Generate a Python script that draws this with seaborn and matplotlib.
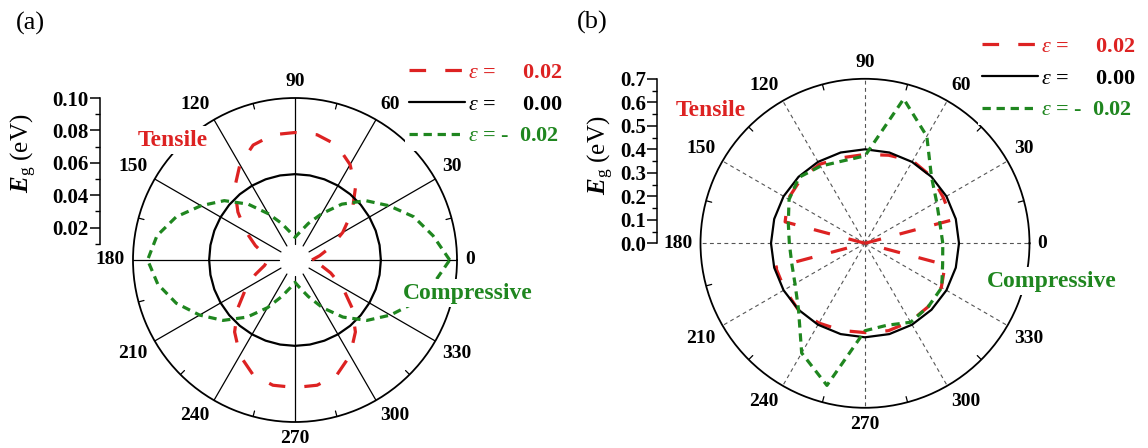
import numpy as np
import matplotlib
matplotlib.use("Agg")
import matplotlib.pyplot as plt
import seaborn as sns

# ---------------------------------------------------------------------------
# Data: band gap E_g (eV) versus in-plane direction (degrees)
# ---------------------------------------------------------------------------
theta_a = [0, 10, 20, 30, 40, 50, 60, 70, 80, 90, 100, 110,
           120, 130, 140, 150, 160, 170, 180, 190, 200, 210, 220, 230,
           240, 250, 260, 270, 280, 290, 300, 310, 320, 330, 340, 350]

eg_a_tensile = [0.0105, 0.0155, 0.0235, 0.034, 0.046, 0.058, 0.068, 0.0755, 0.0785,
                0.0787, 0.0785, 0.0755, 0.068, 0.058, 0.046, 0.035, 0.026, 0.019,
                0.017, 0.019, 0.026, 0.035, 0.046, 0.058, 0.068, 0.0755, 0.0785,
                0.0787, 0.0785, 0.0755, 0.068, 0.058, 0.046, 0.034, 0.0235, 0.0155]

eg_a_pristine = [0.053, 0.053, 0.053, 0.053, 0.053, 0.053, 0.053, 0.053, 0.053,
                 0.053, 0.053, 0.053, 0.053, 0.053, 0.053, 0.053, 0.053, 0.053,
                 0.053, 0.053, 0.053, 0.053, 0.053, 0.053, 0.053, 0.053, 0.053,
                 0.053, 0.053, 0.053, 0.053, 0.053, 0.053, 0.053, 0.053, 0.053]

eg_a_compressive = [0.0955, 0.0865, 0.078, 0.067, 0.057, 0.045, 0.033, 0.024, 0.0175,
                    0.014, 0.0175, 0.024, 0.033, 0.045, 0.057, 0.067, 0.078, 0.0865,
                    0.091, 0.086, 0.078, 0.068, 0.058, 0.046, 0.034, 0.024, 0.0175,
                    0.0138, 0.0175, 0.024, 0.034, 0.046, 0.058, 0.068, 0.078, 0.0865]

theta_b = [0, 15, 30, 45, 60, 75, 90, 105, 120, 135, 150, 165,
           180, 195, 210, 225, 240, 255, 270, 285, 300, 315, 330, 345]

eg_b_tensile = [0.0, 0.382, 0.386, 0.401, 0.405, 0.388, 0.378, 0.377, 0.388, 0.386,
                0.378, 0.352, 0.0, 0.394, 0.394, 0.401, 0.392, 0.384, 0.380, 0.385,
                0.385, 0.381, 0.375, 0.353]

eg_b_pristine = [0.40, 0.40, 0.40, 0.40, 0.40, 0.40, 0.40, 0.40, 0.40, 0.40, 0.40, 0.40,
                 0.40, 0.40, 0.40, 0.40, 0.40, 0.40, 0.40, 0.40, 0.40, 0.40, 0.40, 0.40]

eg_b_compressive = [0.331, 0.330, 0.352, 0.400, 0.526, 0.636, 0.372, 0.363, 0.379,
                    0.397, 0.373, 0.338, 0.322, 0.323, 0.344, 0.400, 0.539, 0.626,
                    0.372, 0.361, 0.388, 0.381, 0.377, 0.342]

strain_labels = [r"$\varepsilon$ =     0.02", r"$\varepsilon$ =     0.00",
                 r"$\varepsilon$ = -  0.02"]

angle_labels = [0, 30, 60, 90, 120, 150, 180, 210, 240, 270, 300, 330]
edge_ticks = [15, 45, 75, 105, 135, 165, 195, 225, 255, 285, 315, 345]

rticks_a = [0.02, 0.04, 0.06, 0.08, 0.10]
rtick_labels_a = ["0.02", "0.04", "0.06", "0.08", "0.10"]
rminor_a = [0.01, 0.03, 0.05, 0.07, 0.09]

rticks_b = [0.0, 0.1, 0.2, 0.3, 0.4, 0.5, 0.6, 0.7]
rtick_labels_b = ["0.0", "0.1", "0.2", "0.3", "0.4", "0.5", "0.6", "0.7"]
rminor_b = [0.05, 0.15, 0.25, 0.35, 0.45, 0.55, 0.65]

# ---------------------------------------------------------------------------
# Style
# ---------------------------------------------------------------------------
sns.set_style("white")
plt.rcParams["font.family"] = ["Liberation Serif", "DejaVu Serif"]
plt.rcParams["mathtext.fontset"] = "custom"
plt.rcParams["mathtext.rm"] = "Liberation Serif"
plt.rcParams["mathtext.it"] = "Liberation Serif:italic"
plt.rcParams["mathtext.bf"] = "Liberation Serif:bold"
plt.rcParams["mathtext.bfit"] = "Liberation Serif:italic:bold"
plt.rcParams["text.color"] = "black"

RED = "#dd2222"
GREEN = "#1f861f"
BLACK = "black"

W, H = 1148, 448
fig = plt.figure(figsize=(W / 100, H / 100), dpi=100)


def px_rect(left, top, width, height):
    return [left / W, 1 - (top + height) / H, width / W, height / H]


def fig_xy(x, y):
    return x / W, 1 - y / H


def polar_panel(cx, cy, R, rmax, theta, curves, spoke_in, spoke_style):
    ax = fig.add_axes(px_rect(cx - R, cy - R, 2 * R, 2 * R), projection="polar")
    ax.set_theta_zero_location("E")
    ax.set_theta_direction(1)

    # spokes every 30 degrees
    for a in angle_labels:
        t = np.deg2rad(a)
        ax.plot([t, t], [spoke_in, rmax], zorder=1, **spoke_style)
    # short inward ticks on the rim
    for a in edge_ticks:
        t = np.deg2rad(a)
        ax.plot([t, t], [rmax * 0.965, rmax], color=BLACK, lw=0.9, zorder=1)

    handles = []
    th = np.deg2rad(np.append(theta, theta[0] + 360))
    for vals, color, lw, ls in curves:
        r = np.append(vals, vals[0])
        sns.lineplot(x=th, y=r, ax=ax, sort=False, estimator=None,
                     color=color, linewidth=lw, linestyle=ls, zorder=2)
        handles.append(ax.lines[-1])

    ax.set_ylim(0, rmax)
    ax.set_xticks([])
    ax.set_yticks([])
    ax.grid(False)
    ax.set_xlabel("")
    ax.set_ylabel("")
    ax.spines["polar"].set_linewidth(1.3)
    ax.spines["polar"].set_color(BLACK)

    for a in angle_labels:
        t = np.deg2rad(a)
        c, s = np.cos(t), np.sin(t)
        ha = "left" if c > 0.1 else ("right" if c < -0.1 else "center")
        va = "bottom" if s > 0.1 else ("top" if s < -0.1 else "center")
        ax.text(t, rmax * 1.05, str(a), ha=ha, va=va, fontsize=14,
                fontweight="bold", color=BLACK)
    return ax, handles


def radial_axis(x, cy, R, rmax, lo, ticks, labels, minor):
    axr = fig.add_axes(px_rect(x, cy - R, 1, R))
    axr.set_ylim(0, rmax)
    axr.patch.set_visible(False)
    for side in ["top", "right", "bottom"]:
        axr.spines[side].set_visible(False)
    axr.spines["left"].set_bounds(lo, rmax)
    axr.spines["left"].set_linewidth(1.1)
    axr.spines["left"].set_color(BLACK)
    axr.set_xticks([])
    axr.set_yticks(ticks)
    axr.set_yticklabels(labels)
    axr.set_yticks(minor, minor=True)
    axr.tick_params(axis="y", which="major", direction="out", length=7, width=1.1,
                    pad=1, labelsize=15, colors=BLACK, left=True)
    axr.tick_params(axis="y", which="minor", direction="out", length=3.5, width=1.0,
                    colors=BLACK, left=True)
    for lab in axr.get_yticklabels():
        lab.set_fontweight("bold")
    return axr


curve_styles = [
    (RED, 2.3, (0, (5.2, 6.0))),
    (BLACK, 1.6, "-"),
    (GREEN, 2.3, (0, (2.6, 1.8))),
]

# ---------------------------------------------------------------------------
# Panel (a)
# ---------------------------------------------------------------------------
ax_a, h_a = polar_panel(
    295, 260, 162, 0.10, theta_a,
    [(eg_a_tensile,) + curve_styles[0],
     (eg_a_pristine,) + curve_styles[1],
     (eg_a_compressive,) + curve_styles[2]],
    spoke_in=0.01,
    spoke_style=dict(color=BLACK, lw=0.9, ls="-"),
)
radial_axis(100, 260, 162, 0.10, 0.01, rticks_a, rtick_labels_a, rminor_a)

# ---------------------------------------------------------------------------
# Panel (b)
# ---------------------------------------------------------------------------
ax_b, h_b = polar_panel(
    865, 243.3, 164.5, 0.7, theta_b,
    [(eg_b_tensile,) + curve_styles[0],
     (eg_b_pristine,) + curve_styles[1],
     (eg_b_compressive,) + curve_styles[2]],
    spoke_in=0.0,
    spoke_style=dict(color="#555555", lw=0.8, ls=(0, (3.5, 3))),
)
radial_axis(657, 243.3, 164.5, 0.7, 0.0, rticks_b, rtick_labels_b, rminor_b)

# ---------------------------------------------------------------------------
# Legends
# ---------------------------------------------------------------------------
for ax, handles, anchor in [(ax_a, h_a, (405, 58)), (ax_b, h_b, (978, 32))]:
    ax.legend(handles, strain_labels, loc="upper left",
              bbox_to_anchor=fig_xy(*anchor), bbox_transform=fig.transFigure,
              frameon=True, facecolor="white", edgecolor="none", framealpha=1,
              fancybox=False, borderpad=0.2, borderaxespad=0,
              handlelength=2.5, handletextpad=0.15, labelspacing=0.5,
              prop=dict(family="Liberation Serif", weight="bold", size=16),
              labelcolor=[RED, BLACK, GREEN])

# ---------------------------------------------------------------------------
# Annotations
# ---------------------------------------------------------------------------
note_kw = dict(fontsize=17, fontweight="bold", ha="center", va="center")
fig.text(*fig_xy(173, 140), "Tensile", color=RED,
         bbox=dict(boxstyle="square,pad=0.15", fc="white", ec="none"), **note_kw)
fig.text(*fig_xy(467.5, 293), "Compressive", color=GREEN,
         bbox=dict(boxstyle="square,pad=0.15", fc="white", ec="none"), **note_kw)
fig.text(*fig_xy(711, 110), "Tensile", color=RED,
         bbox=dict(boxstyle="square,pad=0.05", fc="white", ec="none"), **note_kw)
fig.text(*fig_xy(1052, 281), "Compressive", color=GREEN,
         bbox=dict(boxstyle="square,pad=0.15", fc="white", ec="none"), **note_kw)

ylab = r"$\mathbfit{E}_{\mathrm{g}}$ (eV)"
fig.text(*fig_xy(24, 153), ylab, rotation=90, fontsize=18, ha="center", va="center")
fig.text(*fig_xy(601, 155), ylab, rotation=90, fontsize=18, ha="center", va="center")

fig.text(*fig_xy(16, 23), "(a)", fontsize=19, ha="left", va="center")
fig.text(*fig_xy(577, 22), "(b)", fontsize=19, ha="left", va="center")

fig.savefig("out.png", dpi=100)
